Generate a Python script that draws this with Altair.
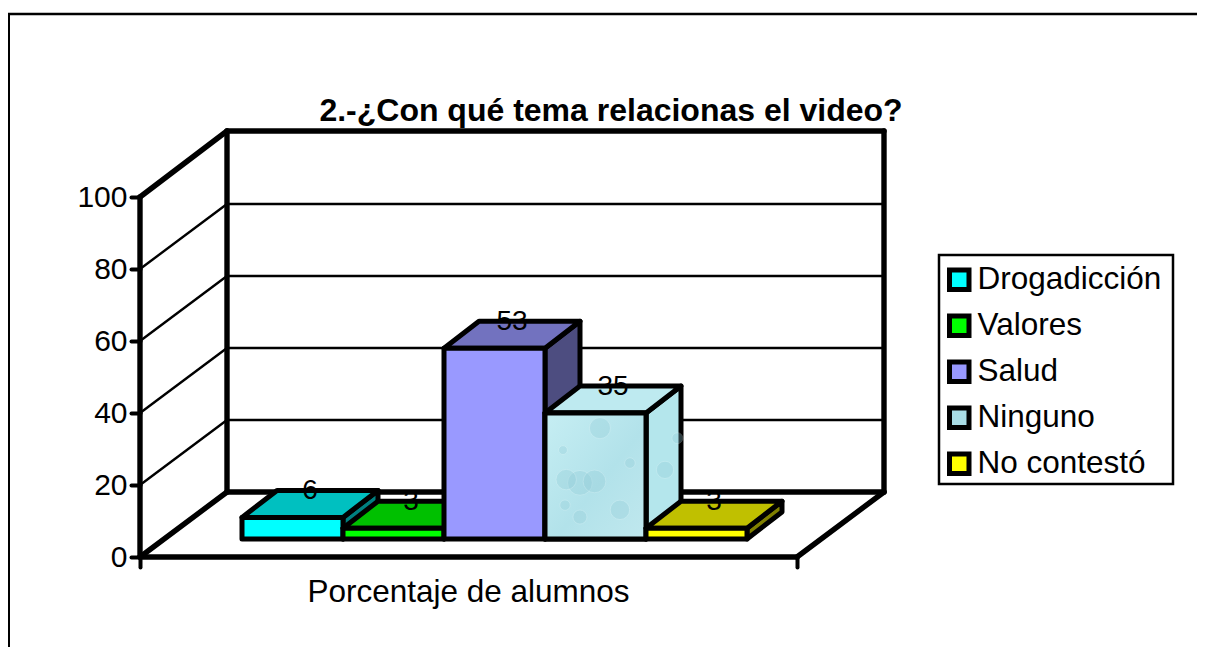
import altair as alt
import pandas as pd

# ---- chart values ----
names = ["Drogadicción", "Valores", "Salud", "Ninguno", "No contestó"]
values = [6, 3, 53, 35, 3]
front = ["#00FFFF", "#00FF00", "#9999FF", "#A9DDE6", "#FFFF00"]
top = ["#00C0C0", "#00C000", "#7272BF", "#BEEAF0", "#C0C000"]
side = ["#008080", "#008000", "#4D4D80", "#B4E6EC", "#808000"]
y_ticks = [0, 20, 40, 60, 80, 100]
grid_levels = [20, 40, 60, 80]
title_text = "2.-¿Con qué tema relacionas el video?"
x_title = "Porcentaje de alumnos"

# droplets of the "Ninguno" picture fill (x, value, size)
drop_x = [4.554, 4.356, 4.50, 4.22, 4.752, 4.356, 4.851, 4.188, 4.208, 5.198, 5.32]
drop_y = [35.8, 20.6, 21.0, 21.5, 13.1, 11.1, 26.1, 29.7, 14.4, 24.2, 33.0]
drop_s = [450, 620, 520, 420, 380, 200, 113, 80, 110, 300, 120]

# ---- 3-D geometry in data units (1 x-unit = one bar width) ----
X_MAX, Y_MAX = 744 / 101, 426 / 3.6
FLOOR_W = 657 / 101
WALL_DX, WALL_DY = 87 / 101, 18.06
BAR_DX, BAR_DY = 35 / 101, 7.5
BAR_X0, BAR_BASE = 102 / 101, 5.0

xs = alt.Scale(domain=[0, X_MAX], nice=False, zero=False)
ys = alt.Scale(domain=[0, Y_MAX], nice=False, zero=False)
colour = alt.Color(
    "name:N",
    scale=alt.Scale(domain=names, range=front),
    sort=None,
    legend=alt.Legend(
        title=None, orient="none", legendX=794.5, legendY=124,
        padding=9, cornerRadius=0,
        labelFont="Liberation Sans", labelFontSize=31.5, labelColor="black",
        labelLimit=400, labelOffset=2.5,
        symbolType="square", symbolSize=380, symbolStrokeColor="black",
        symbolStrokeWidth=5, symbolOpacity=1, rowPadding=6,
    ),
)

x_axis = alt.Axis(
    values=[0, FLOOR_W], labels=False, grid=False, domain=False,
    tickSize=10, tickWidth=4, tickColor="black", tickCap="round",
    title=x_title,
    titleFont="Liberation Sans", titleFontSize=31.5, titleFontWeight="normal",
    titleColor="black", titleX=328, titleY=35, titleAlign="center",
    titleBaseline="middle", titleAnchor="start")
y_axis = alt.Axis(
    values=y_ticks, format="d", grid=False, domain=False, title=None,
    tickSize=9, tickWidth=4, tickColor="black", tickCap="round",
    labelFont="Liberation Sans", labelFontSize=30, labelColor="black",
    labelPadding=4)

X = lambda f="x": alt.X(f"{f}:Q", scale=xs, axis=x_axis, stack=None)
Y = lambda f="y": alt.Y(f"{f}:Q", scale=ys, axis=y_axis, stack=None)
X2 = alt.X2("x2:Q")
Y2 = alt.Y2("y2:Q")

# ---- frame ----
segs = [
    (0, 0, 0, 100), (0, 100, WALL_DX, 100 + WALL_DY + .27),
    (WALL_DX, WALL_DY, WALL_DX, 100 + WALL_DY + .27),
    (WALL_DX, 100 + WALL_DY + .27, FLOOR_W + WALL_DX, 100 + WALL_DY + .27),
    (FLOOR_W + WALL_DX, WALL_DY, FLOOR_W + WALL_DX, 100 + WALL_DY + .27),
    (WALL_DX, WALL_DY, FLOOR_W + WALL_DX, WALL_DY),
    (0, 0, WALL_DX, WALL_DY), (FLOOR_W, 0, FLOOR_W + WALL_DX, WALL_DY),
    (0, 0, FLOOR_W, 0),
]
frame = pd.DataFrame(segs, columns=["x", "y", "x2", "y2"])
thin = []
for v in grid_levels:
    thin.append((0, v, WALL_DX, v + WALL_DY))
    thin.append((WALL_DX, v + WALL_DY, FLOOR_W + WALL_DX, v + WALL_DY))
thin = pd.DataFrame(thin, columns=["x", "y", "x2", "y2"])

axes_layer = alt.Chart(thin).mark_rule(stroke="black", strokeWidth=2.4).encode(
    x=X(), y=Y(), x2=X2, y2=Y2)
frame_layer = alt.Chart(frame).mark_rule(
    stroke="black", strokeWidth=5.4, strokeCap="round"
).encode(x=X(), y=Y(), x2=X2, y2=Y2)

# ---- outer border of the picture and frame of the legend ----
border = pd.DataFrame({"k": ["one"]})
border_left = alt.Chart(border).mark_rule(stroke="black", strokeWidth=4).encode(
    x=alt.value(-132), x2=alt.value(-132), y=alt.value(-117), y2=alt.value(520))
border_top = alt.Chart(border).mark_rule(stroke="black", strokeWidth=2.4).encode(
    x=alt.value(-132), x2=alt.value(1070), y=alt.value(-117), y2=alt.value(-117))
legend_box = alt.Chart(border).mark_rect(
    fillOpacity=0, stroke="black", strokeWidth=2.5
).encode(x=alt.value(799), x2=alt.value(1033), y=alt.value(124), y2=alt.value(353))

layers = [border_left, border_top, legend_box, axes_layer, frame_layer]

EDGE = dict(stroke="black", strokeWidth=5, strokeJoin="round")
labels = []
for i, (n, v) in enumerate(zip(names, values)):
    x0, x1 = BAR_X0 + i, BAR_X0 + i + 1
    b, t = BAR_BASE, BAR_BASE + v
    side_df = pd.DataFrame({
        "x": [x1, x1 + BAR_DX], "y": [b, b + BAR_DY], "y2": [t, t + BAR_DY]})
    top_df = pd.DataFrame({
        "y": [t, t + BAR_DY], "x": [x0, x0 + BAR_DX], "x2": [x1, x1 + BAR_DX]})
    front_df = pd.DataFrame({"name": [n], "x": [x0], "x2": [x1], "y": [b], "y2": [t]})
    layers.append(alt.Chart(side_df).mark_area(
        orient="vertical", fill=side[i], **EDGE).encode(x=X(), y=Y(), y2=Y2))
    layers.append(alt.Chart(top_df).mark_area(
        orient="horizontal", fill=top[i], **EDGE).encode(x=X(), x2=X2, y=Y()))
    layers.append(alt.Chart(front_df).mark_rect(**EDGE).encode(
        x=X(), x2=X2, y=Y(), y2=Y2, color=colour))
    if n == "Ninguno":
        layers.append(alt.Chart(front_df).mark_rect(
            fill=alt.Gradient(
                gradient="linear", x1=0, y1=0, x2=1, y2=1,
                stops=[alt.GradientStop(color="#C6EEF3", offset=0),
                       alt.GradientStop(color="#B2E2EA", offset=.55),
                       alt.GradientStop(color="#C0E8EE", offset=1)])
        ).encode(x=X(), x2=X2, y=Y(), y2=Y2))
        drops = pd.DataFrame({"x": drop_x, "y": drop_y, "s": drop_s})
        layers.append(alt.Chart(drops).mark_circle(
            color="#8FCAD6", opacity=.3, stroke="#E6F8FA", strokeWidth=.8
        ).encode(x=X(), y=Y(), size=alt.Size("s:Q", scale=None)))
        layers.append(alt.Chart(front_df).mark_rect(
            fillOpacity=0, **EDGE).encode(x=X(), x2=X2, y=Y(), y2=Y2))
    labels.append({"x": (x0 + x1) / 2 + BAR_DX / 2, "y": t + BAR_DY, "t": str(v)})

layers.append(alt.Chart(pd.DataFrame(labels)).mark_text(
    font="Liberation Sans", fontSize=28, color="black", baseline="middle",
    align="center", dy=1
).encode(x=X(), y=Y(), text="t:N"))

chart = alt.layer(*layers).properties(
    width=744, height=426,
    padding={"left": 132, "top": 123, "right": 313, "bottom": 90},
    autosize=alt.AutoSizeParams(type="none"),
    background="white",
    title=alt.TitleParams(
        text=title_text, font="Liberation Sans", fontSize=32, fontWeight="bold",
        color="black", anchor="middle", frame="group", dx=99, dy=124, offset=8),
).configure_view(stroke=None)

chart.save("out.html", embed_options={"renderer": "svg", "actions": False})
